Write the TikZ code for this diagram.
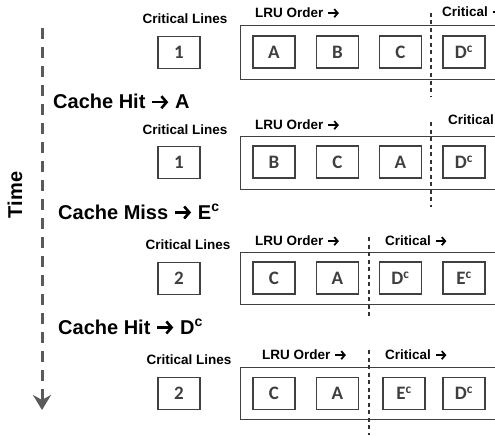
\documentclass[tikz,border=0pt]{standalone}
\usepackage{fontspec}
\setmainfont{Liberation Sans}
\newfontfamily\boxfont{Carlito}
\usetikzlibrary{arrows.meta}
\definecolor{bdr}{HTML}{404040}
\definecolor{txtg}{HTML}{3F3F3F}
\definecolor{axisc}{HTML}{5A5A5A}
\newcommand{\rarr}{\tikz[baseline=0pt]\draw[line width=0.13em,-{Straight Barb[length=0.26em,width=0.6em]}] (0,0.34em) -- (0.8em,0.34em);}
\tikzset{
  cell/.style={draw=bdr, line width=1.3pt, minimum width=42pt, minimum height=32pt, inner sep=0pt,
    font=\boxfont\bfseries\fontsize{19}{19}\selectfont, text=txtg},
  lbl/.style={font=\bfseries\fontsize{13.5}{14}\selectfont, inner sep=0pt},
  big/.style={font=\bfseries\fontsize{20}{22}\selectfont, inner sep=0pt},
  rowrect/.style={draw=bdr, line width=1.3pt, minimum width=270pt, inner sep=0pt, anchor=north west},
  sepline/.style={draw=black!80, line width=1.2pt, dash pattern=on 4pt off 3.5pt},
  axisline/.style={draw=axisc, line width=3pt, dash pattern=on 11pt off 8pt,
    -{Stealth[length=15pt, width=18pt, inset=5pt]}}
}
\begin{document}
\begin{tikzpicture}[x=1pt, y=-1pt]
\useasboundingbox (0,0) rectangle (495,436);
\clip (0,0) rectangle (495,436);
% time axis
\coordinate (tstart) at (42,28);
\coordinate (tend) at (42,410);
\draw[axisline] (tstart) -- (tend);
\node[big, rotate=90] (time) at (15,195) {Time};
% event labels
\node[big, anchor=west] (ev1) at (53,102) {Cache Hit \rarr\ A};
\node[big, anchor=west] (ev2) at (58,212) {Cache Miss \rarr\ E\textsuperscript{c}};
\node[big, anchor=west] (ev3) at (58,327) {Cache Hit \rarr\ D\textsuperscript{c}};
% Row 1
\node[lbl] (cl1) at (185,19) {Critical Lines};
\node[cell] (n1) at (179,52.5) {1};
\node[rowrect, minimum height=54pt] (r1) at (240,25) {};
\node[lbl, anchor=west] (lru1) at (255,13) {LRU Order \rarr};
\node[lbl, anchor=west] (cr1) at (442,12) {Critical \rarr};
\node[cell] (a1) at (274,52) {A};
\node[cell] (b1) at (337.5,52) {B};
\node[cell] (c1) at (400.5,52) {C};
\node[cell] (d1) at (464,52) {D\textsuperscript{c}};
\coordinate (s1a) at (431,13);
\coordinate (s1b) at (431,97);
\draw[sepline] (s1a) -- (s1b);
% Row 2
\node[lbl] (cl2) at (185,130) {Critical Lines};
\node[cell] (n2) at (179,162.5) {1};
\node[rowrect, minimum height=53pt] (r2) at (240,136) {};
\node[lbl, anchor=west] (lru2) at (255,125) {LRU Order \rarr};
\node[lbl, anchor=west] (cr2) at (448,120) {Critical \rarr};
\node[cell] (b2) at (274,162) {B};
\node[cell] (c2) at (337.5,162) {C};
\node[cell] (a2) at (400.5,162) {A};
\node[cell] (d2) at (464,162) {D\textsuperscript{c}};
\coordinate (s2a) at (431,122);
\coordinate (s2b) at (431,207);
\draw[sepline] (s2a) -- (s2b);
% Row 3
\node[lbl] (cl3) at (188,245) {Critical Lines};
\node[cell] (n3) at (179,278.5) {2};
\node[rowrect, minimum height=52pt] (r3) at (240,252) {};
\node[lbl, anchor=west] (lru3) at (255,241) {LRU Order \rarr};
\node[lbl, anchor=west] (cr3) at (385,241) {Critical \rarr};
\node[cell] (c3) at (274,278) {C};
\node[cell] (a3) at (337.5,278) {A};
\node[cell] (d3) at (400.5,278) {D\textsuperscript{c}};
\node[cell] (e3) at (464,278) {E\textsuperscript{c}};
\coordinate (s3a) at (369,237);
\coordinate (s3b) at (369,318);
\draw[sepline] (s3a) -- (s3b);
% Row 4
\node[lbl] (cl4) at (189,360) {Critical Lines};
\node[cell] (n4) at (179,393.5) {2};
\node[rowrect, minimum height=52pt] (r4) at (240,367) {};
\node[lbl, anchor=west] (lru4) at (262,355) {LRU Order \rarr};
\node[lbl, anchor=west] (cr4) at (385,355) {Critical \rarr};
\node[cell] (c4) at (274,393.5) {C};
\node[cell] (a4) at (337.5,393.5) {A};
\node[cell] (e4) at (404,393.5) {E\textsuperscript{c}};
\node[cell] (d4) at (464,393.5) {D\textsuperscript{c}};
\coordinate (s4a) at (369,350);
\coordinate (s4b) at (369,435);
\draw[sepline] (s4a) -- (s4b);
\end{tikzpicture}
\end{document}
